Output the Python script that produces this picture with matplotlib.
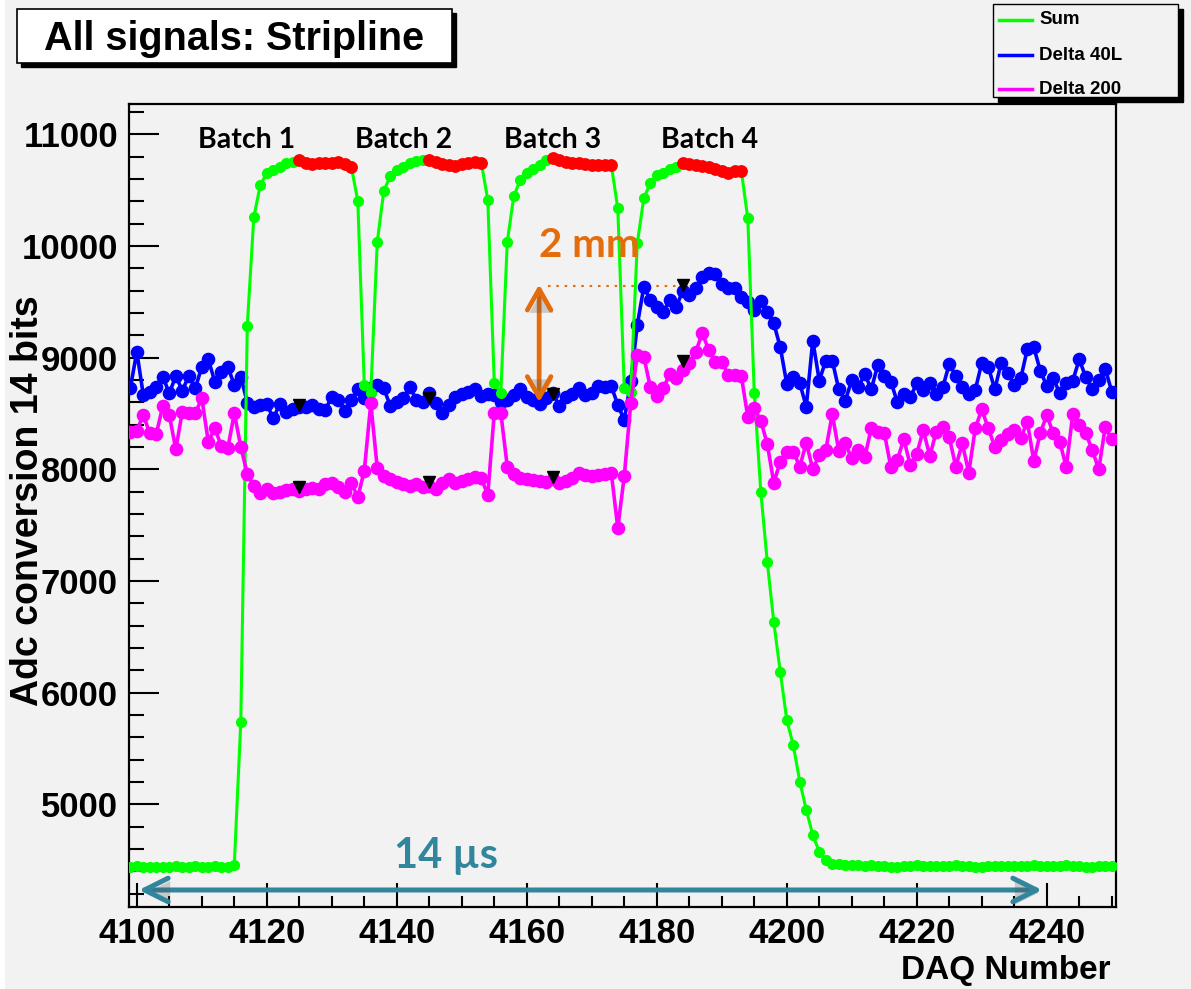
import numpy as np
import matplotlib
matplotlib.use("Agg")
import matplotlib.pyplot as plt
from matplotlib.patches import Rectangle, FancyArrowPatch
from matplotlib.ticker import MultipleLocator, FixedLocator
import matplotlib.patheffects as pe

plt.rcParams['font.family'] = ['Liberation Sans', 'DejaVu Sans']
plt.rcParams['font.weight'] = 'bold'

# ---- data (DAQ 4099 .. 4250) ----
daq = np.arange(4099, 4251)

sum_signal = [4440, 4445, 4438, 4442, 4440, 4436, 4440, 4445, 4438, 4441, 4444, 4437, 4440, 4445, 4441, 4443, 4460,
              5737, 9286, 10257, 10546, 10651, 10680, 10710, 10740, 10755,
              10769, 10746, 10734, 10740, 10746, 10746, 10752, 10734, 10710,
              10403, 8755, 8684, 10038, 10492, 10627, 10680, 10710, 10746, 10764, 10770,
              10770, 10755, 10734, 10725, 10716, 10731, 10746, 10752, 10746,
              10412, 8770, 8680, 10038, 10447, 10591, 10651, 10687, 10725, 10770,
              10785, 10770, 10755, 10746, 10740, 10731, 10725, 10725, 10725, 10725,
              10337, 8725, 8690, 10024, 10427, 10561, 10636, 10656, 10687, 10710,
              10746, 10734, 10725, 10716, 10710, 10687, 10675, 10657, 10675, 10675,
              10248, 8686, 7800, 7170, 6633, 6185, 5755, 5530, 5203, 4950, 4726, 4576, 4502,
              4470, 4462, 4458, 4455, 4458, 4452, 4455, 4450, 4445, 4440, 4442, 4448, 4452, 4455, 4450,
              4448, 4445, 4450, 4452, 4455, 4448, 4445, 4440, 4442, 4445, 4448, 4450, 4452, 4448, 4445,
              4450, 4455, 4452, 4448, 4445, 4450, 4455, 4452, 4448, 4440, 4442, 4445, 4448, 4450]

delta_40l = [8725, 9053, 8665, 8695, 8740, 8830, 8680, 8836, 8705, 8836, 8725, 8919, 8985, 8785, 8874, 8919,
             8755, 8830, 8597, 8561, 8576, 8585, 8456, 8585, 8516, 8537, 8561, 8561, 8576, 8537, 8531, 8650,
             8620, 8525, 8620, 8716, 8635, 8725,
             8755, 8725, 8567, 8606, 8635, 8740, 8620, 8606, 8686, 8591, 8507, 8576, 8650, 8674, 8695, 8716,
             8656, 8674, 8665, 8606, 8620, 8665, 8716, 8644, 8620, 8585, 8635, 8680, 8567, 8650, 8674, 8725,
             8665, 8680, 8746, 8740, 8746, 8576,
             8442, 8790,
             9292, 9632, 9519, 9455, 9412, 9516, 9456, 9598, 9561, 9621, 9718, 9758, 9752, 9658, 9621, 9620,
             9546, 9501, 9427, 9510, 9412, 9307, 9093, 8766, 8830, 8770, 8561, 9152, 8794, 8973, 8973, 8716,
             8614, 8800, 8734, 8853, 8716, 8934, 8836, 8785, 8605, 8674, 8645, 8770, 8710, 8770, 8674, 8734,
             8943, 8836, 8740, 8674, 8710, 8955, 8919, 8716, 8955, 8865, 8755, 8815, 9075, 9093, 8883, 8746,
             8815, 8680, 8776, 8794, 8985, 8824, 8716, 8800, 8901, 8695]

delta_200 = [8337, 8346, 8486, 8322, 8316, 8567, 8486, 8179, 8516, 8501, 8501, 8636, 8247, 8367, 8209, 8188,
             8501, 8203, 7958, 7850, 7791, 7821, 7791, 7800, 7815, 7821, 7809, 7821, 7830, 7821, 7868, 7874,
             7845, 7800, 7880, 7749, 7988, 8590,
             8009, 7940, 7910, 7889, 7869, 7851, 7869, 7845, 7851, 7821, 7880, 7910, 7880, 7898, 7910, 7928,
             7919, 7770, 8507, 8507, 8024, 7958, 7919, 7910, 7904, 7898, 7889, 7910, 7874, 7898, 7919, 7970,
             7949, 7940, 7949, 7958, 7970,
             7475, 7940, 8597,
             9024, 9010, 8737, 8657, 8725, 8853, 8815, 8889, 8949, 9053, 9218, 9068, 8964, 8964, 8844, 8844,
             8836, 8471, 8546, 8435, 8227, 7880, 8068, 8158, 8158, 8023, 8238, 8000, 8128, 8173, 8495, 8166,
             8233, 8098, 8173, 8108, 8367, 8337, 8328, 8023, 8083, 8269, 8039, 8137, 8352, 8119, 8337, 8382,
             8287, 8023, 8233, 7970, 8367, 8537, 8367, 8203, 8263, 8316, 8352, 8278, 8427, 8077, 8322, 8486,
             8322, 8247, 8018, 8495, 8397, 8322, 8173, 8000, 8382, 8269]

# flat-top windows (drawn red) per batch
flat_start = [4125, 4145, 4164, 4184]
flat_end = [4133, 4153, 4173, 4193]

# averaged positions (black triangles)
avg_x = [4125, 4145, 4164, 4184]
avg_40l = [8576, 8635, 8674, 9650]
avg_200 = [7839, 7889, 7928, 8973]

batch_labels = ['Batch 1', 'Batch 2', 'Batch 3', 'Batch 4']
batch_x = [4116.9, 4141.0, 4164.0, 4188.1]

legend_names = ['Sum', 'Delta 40L', 'Delta 200']

GREEN, BLUE, PINK, RED = '#00ff00', '#0000ff', '#ff00ff', '#ff0000'
ORANGE, TEAL = '#e46c0a', '#31859c'
BG = '#f2f2f2'

W, H = 1191, 989
fig = plt.figure(figsize=(W / 100, H / 100), dpi=100, facecolor=BG)


def fx(px):
    return px / W


def fy(py):
    return 1 - py / H


ax = fig.add_axes([fx(129), fy(907.3), fx(1116) - fx(129), fy(104) - fy(907.3)])
ax.set_facecolor(BG)

daq = np.array(daq)
s = np.array(sum_signal)
ax.plot(daq, delta_40l, '-o', color=BLUE, lw=2.6, ms=8.8, zorder=3)
ax.plot(daq, s, '-o', color=GREEN, lw=2.2, ms=7.0, zorder=4)
ax.plot(daq, delta_200, '-o', color=PINK, lw=2.6, ms=8.8, zorder=5)
for a, b in zip(flat_start, flat_end):
    m = (daq >= a) & (daq <= b)
    ax.plot(daq[m], s[m], 'o', color=RED, ms=8.2, zorder=6)

ax.plot(avg_x, avg_40l, 'v', color='black', ms=8.5, zorder=7)
ax.plot(avg_x, avg_200, 'v', color='black', ms=8.5, zorder=7)

ax.set_xlim(4098.8, 4250.65)
ax.set_ylim(4078, 11271)
ax.xaxis.set_major_locator(FixedLocator(range(4100, 4241, 20)))
ax.xaxis.set_minor_locator(MultipleLocator(5))
ax.yaxis.set_major_locator(FixedLocator(range(5000, 11001, 1000)))
ax.yaxis.set_minor_locator(MultipleLocator(200))
ax.tick_params(axis='both', which='both', direction='in', top=False, right=False, width=1.5)
ax.tick_params(axis='y', which='major', length=21.5, labelsize=25, pad=8)
ax.tick_params(axis='y', which='minor', length=10.5)
ax.tick_params(axis='x', which='major', length=17, labelsize=25, pad=7)
ax.tick_params(axis='x', which='minor', length=8)
for sp in ax.spines.values():
    sp.set_linewidth(1.6)

# batch labels
for lab, bx in zip(batch_labels, batch_x):
    ax.text(bx, 10875, lab, ha='center', va='baseline', fontsize=20.5,
            family=['Lato', 'DejaVu Sans'], fontweight='bold', color='black', zorder=8)

# 2 mm annotation
shadow = [pe.SimplePatchShadow(offset=(1.5, -2), alpha=0.25), pe.Normal()]
ax.text(4169.6, 9904, '2 mm', ha='center', va='baseline', fontsize=29,
        family=['Lato', 'DejaVu Sans'], fontweight='bold', color=ORANGE, zorder=8)
arr = FancyArrowPatch((4161.9, 8576), (4161.9, 9680), arrowstyle='<->,head_length=15,head_width=8.5',
                      mutation_scale=1, color=ORANGE, lw=3.4, zorder=8, path_effects=shadow)
ax.add_patch(arr)
ax.plot([4163.3, 4185.6], [9644, 9644], ls=(0, (1.2, 2.8)), color=ORANGE, lw=1.5, zorder=2)

# 14 us annotation
ax.text(4147.5, 4430, '14 \u00b5s', ha='center', va='baseline', fontsize=30,
        family=['Lato', 'DejaVu Sans'], fontweight='bold', color=TEAL, zorder=8)
arr2 = FancyArrowPatch((4099.9, 4233), (4239.7, 4233), arrowstyle='<->,head_length=17,head_width=8.5',
                       mutation_scale=1, color=TEAL, lw=3.6, zorder=8, path_effects=shadow)
ax.add_patch(arr2)

# axis titles
fig.text(fx(28), fy(501), 'Adc conversion 14 bits', rotation=90, ha='center', va='center', fontsize=27)
fig.text(fx(1111), fy(971), 'DAQ Number', ha='right', va='center', fontsize=24)

# title box
fig.patches.append(Rectangle((fx(21), fy(67)), fx(434.6), fy(9.3) - fy(63.3), transform=fig.transFigure,
                             facecolor='black', edgecolor='black', zorder=1))
fig.patches.append(Rectangle((fx(17), fy(63.3)), fx(434.6), fy(9.3) - fy(63.3), transform=fig.transFigure,
                             facecolor='white', edgecolor='black', lw=1.2, zorder=2))
fig.text(fx(234), fy(50), 'All signals: Stripline', ha='center', va='baseline', fontsize=28.5, zorder=3)

# legend box
fig.patches.append(Rectangle((fx(998), fy(102)), fx(185.3), fy(4) - fy(96.7), transform=fig.transFigure,
                             facecolor='black', edgecolor='black', zorder=1))
fig.patches.append(Rectangle((fx(992.7), fy(96.7)), fx(185.3), fy(4) - fy(96.7), transform=fig.transFigure,
                             facecolor=BG, edgecolor='black', lw=1.0, zorder=2))
for name, col, yy in zip(legend_names, [GREEN, BLUE, PINK], [20, 55, 89]):
    fig.lines.append(plt.Line2D([fx(999), fx(1032)], [fy(yy), fy(yy)], transform=fig.transFigure,
                                color=col, lw=2.5, zorder=3))
    fig.text(fx(1039), fy(yy), name, ha='left', va='center', fontsize=13.5, zorder=3)

# white strip on the left edge
fig.patches.append(Rectangle((0, 0), fx(5), 1, transform=fig.transFigure, facecolor='white',
                             edgecolor='none', zorder=0))

fig.savefig('out.png', dpi=100, facecolor=BG)
